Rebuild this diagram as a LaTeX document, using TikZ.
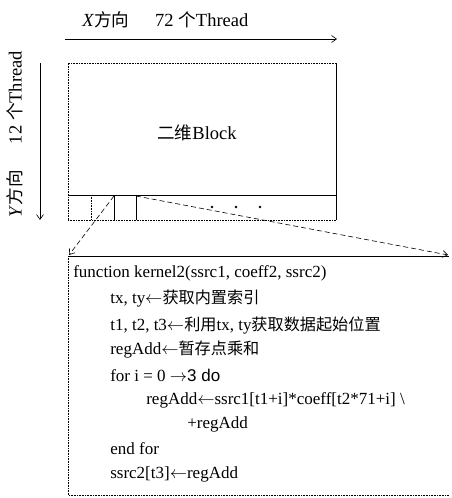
\documentclass[tikz,border=0pt]{standalone}
\usepackage{fontspec}
\setmainfont{Liberation Serif}
\newfontfamily\cjk{Noto Sans CJK SC}[Scale=0.95]
\newfontfamily\arialf{Liberation Sans}
\usetikzlibrary{arrows.meta}
\begin{document}
\begin{tikzpicture}[x=1pt,y=-1pt,line width=0.6pt,
  code/.style={anchor=west,inner sep=0pt,font=\fontsize{17}{20}\selectfont},
  lbl/.style={inner sep=0pt,font=\fontsize{18.5}{22}\selectfont},
  tip/.style={-{Straight Barb[length=5pt,width=7pt]}},
  dashline/.style={dashed,dash pattern=on 5pt off 3pt}]
\useasboundingbox (0,0) rectangle (451,498);
% top label and arrow
\node[lbl,anchor=west] (xl) at (82,20) {\textit{X}{\cjk 方向}\hspace{1.4em}72 {\cjk 个}Thread};
\coordinate (xs) at (65,39);
\coordinate (xe) at (337,39);
\draw[tip] (xs) -- (xe);
% left label and arrow
\node[lbl,rotate=90] (yl) at (15,134) {\textit{Y}{\cjk 方向}\hspace{1.4em}12 {\cjk 个}Thread};
\coordinate (ys) at (40,63);
\coordinate (ye) at (40,220);
\draw[tip] (ys) -- (ye);
% block
\draw[densely dotted] (68,220) -- (68,63) -- (336,63);
\draw (336,63) -- (336,220);
\draw[densely dotted] (68,220) -- (336,220);
\draw (68,195) -- (336,195);
\draw[densely dotted] (91,195) -- (91,220);
\draw (114,195) -- (114,220);
\draw (136,195) -- (136,220);
\fill (212,207) circle (1.3) (236,207) circle (1.3) (260,207) circle (1.3);
\node[lbl] (blk) at (197,133) {{\cjk 二维}Block};
% code box
\draw (68,256) -- (449,256);
\draw[densely dotted] (68,256) -- (68,495) -- (449,495);
% dashed connectors
\coordinate (c2) at (114,196);
\coordinate (c4) at (136,196);
\coordinate (bl) at (69,255);
\coordinate (br) at (448,255);
\draw[dashline,tip] (c2) -- (bl);
\draw[dashline,tip] (c4) -- (br);
% code
\node[code] (l1) at (73,273) {function kernel2(ssrc1, coeff2, ssrc2)};
\node[code] (l2) at (110,299) {tx, ty$\leftarrow${\cjk 获取内置索引}};
\node[code] (l3) at (110,325) {t1, t2, t3$\leftarrow${\cjk 利用}tx, ty{\cjk 获取数据起始位置}};
\node[code] (l4) at (110,350) {regAdd$\leftarrow${\cjk 暂存点乘和}};
\node[code] (l5) at (110,375) {for i = 0 $\rightarrow${\arialf 3 do}};
\node[code] (l6) at (146,400) {regAdd$\leftarrow$ssrc1[t1+i]*coeff[t2*71+i] \textbackslash};
\node[code] (l7) at (187,424) {+regAdd};
\node[code] (l8) at (110,449) {end for};
\node[code] (l9) at (110,474) {ssrc2[t3]$\leftarrow$regAdd};
\end{tikzpicture}
\end{document}
